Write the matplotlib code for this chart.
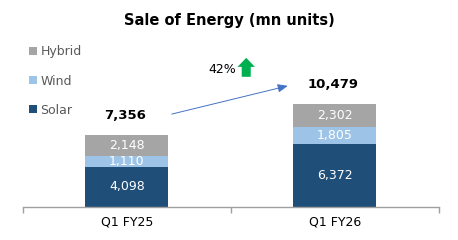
import matplotlib.pyplot as plt
import numpy as np

categories = ["Q1 FY25", "Q1 FY26"]
solar = [4098, 6372]
wind = [1110, 1805]
hybrid = [2148, 2302]
totals = [7356, 10479]
growth = "42%"

col_solar = "#1F4E79"
col_wind = "#9DC3E6"
col_hybrid = "#A5A5A5"

plt.rcParams['font.family'] = ['DejaVu Sans']

fig = plt.figure(figsize=(4.58, 2.4), dpi=100)
ax = fig.add_axes([0.05, 0.1375, 0.908, 0.696])

x = np.arange(len(categories))
w = 0.4
s = np.array(solar)
wd = np.array(wind)
h = np.array(hybrid)

b1 = ax.bar(x, s, w, color=col_solar, label="Solar")
b2 = ax.bar(x, wd, w, bottom=s, color=col_wind, label="Wind")
b3 = ax.bar(x, h, w, bottom=s + wd, color=col_hybrid, label="Hybrid")

for bars, vals, bots in [(b1, s, np.zeros(2)), (b2, wd, s), (b3, h, s + wd)]:
    for i in range(len(x)):
        ax.text(x[i], bots[i] + vals[i] / 2, f"{vals[i]:,}", ha="center", va="center",
                color="white", fontsize=9)

for i in range(len(x)):
    ax.text(x[i] - 0.01, totals[i] + 1950, f"{totals[i]:,}", ha="center", va="center",
            fontsize=9.5, fontweight="bold", color="black")

# growth arrow between the totals
ax.annotate("", xy=(0.774, totals[1] + 1850), xytext=(0.216, totals[0] + 2100),
            arrowprops=dict(arrowstyle="-|>,head_length=0.6,head_width=0.25",
                            color="#4472C4", lw=0.7, shrinkA=0, shrinkB=0))
ax.text(0.46, 13950, growth, ha="center", va="center", fontsize=9, color="black")
ax.annotate("", xy=(0.574, 15180), xytext=(0.574, 13250),
            arrowprops=dict(arrowstyle="simple,head_width=1.25,head_length=0.65,tail_width=0.65",
                            color="#00B050", lw=0, shrinkA=0, shrinkB=0, mutation_scale=10))

ax.set_xlim(-0.5, 1.5)
ax.set_ylim(0, 17000)
ax.set_xticks([-0.5, 0.5, 1.5])
ax.set_xticklabels([])
ax.set_xticks(x, minor=True)
ax.set_xticklabels(categories, minor=True, fontsize=9)
ax.tick_params(axis="x", which="major", length=4, color="#A0A0A0", width=1)
ax.tick_params(axis="x", which="minor", length=0, pad=6)
ax.set_yticks([])
for sp in ["top", "right", "left"]:
    ax.spines[sp].set_visible(False)
ax.spines["bottom"].set_color("#A0A0A0")
ax.spines["bottom"].set_linewidth(1)

handles = [b3, b2, b1]
ax.legend(handles, ["Hybrid", "Wind", "Solar"], loc="upper left",
          bbox_to_anchor=(-0.012, 1.035), frameon=False, fontsize=9,
          handlelength=0.6, handleheight=0.6, handletextpad=0.3,
          labelspacing=1.3, labelcolor="#595959")

fig.suptitle("Sale of Energy (mn units)", y=0.945, fontsize=10.5, fontweight="bold")

fig.savefig("out.png", dpi=100)
